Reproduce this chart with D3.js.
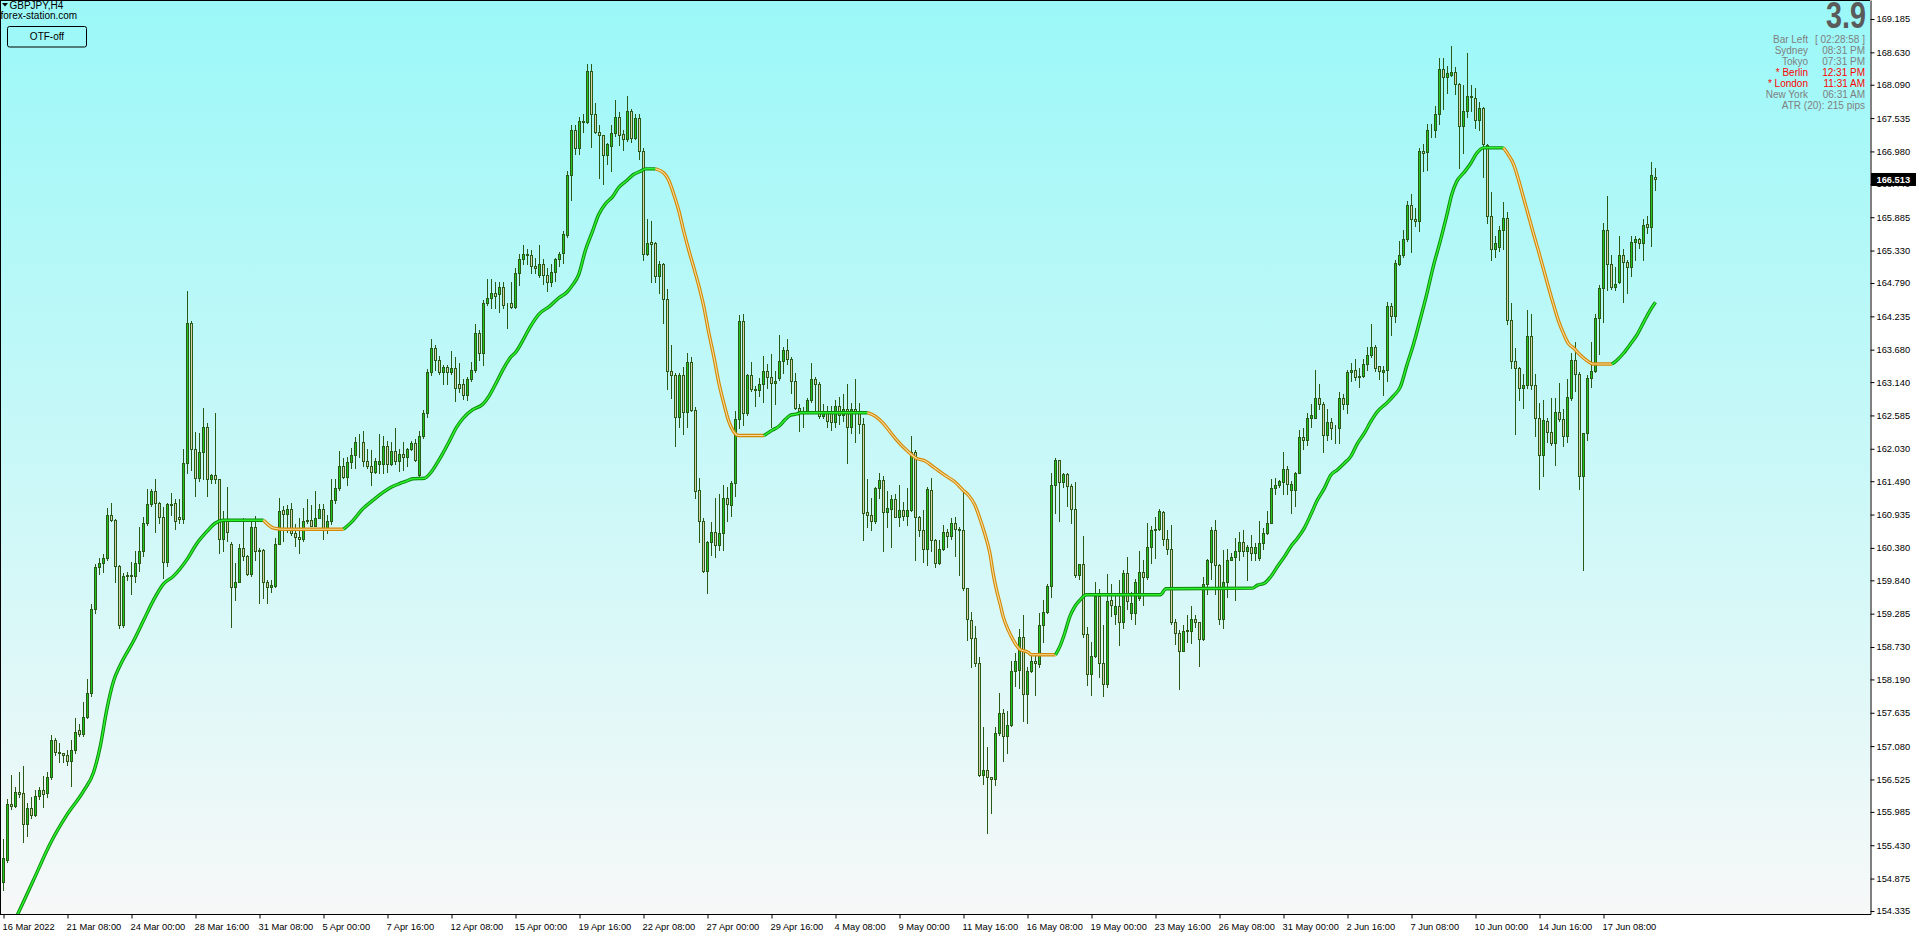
<!DOCTYPE html>
<html><head><meta charset="utf-8">
<script src="https://cdn.jsdelivr.net/npm/d3@7"></script>
<style>html,body{margin:0;padding:0;background:#fff;overflow:hidden}</style>
</head><body>
<svg id="c" width="1916" height="933"></svg>
<script>
// ---------------- DATA (GBPJPY, H4) ----------------
const openP = [
154.81,155.18,156.11,156.08,156.32,156.30,155.79,156.05,155.94,156.25,
156.35,156.30,156.57,157.19,156.99,156.96,156.93,156.84,157.01,157.35,
157.28,157.56,157.97,159.36,160.06,160.13,160.21,160.92,160.84,160.08,
159.10,159.92,159.93,159.92,160.13,160.33,160.79,161.11,161.32,161.13,
160.89,160.15,161.11,161.13,160.90,160.86,161.79,164.13,162.02,161.55,
161.97,162.39,161.53,161.60,161.52,160.53,160.82,160.45,159.73,159.82,
160.37,160.25,159.94,160.73,160.32,160.35,159.82,159.73,159.75,160.45,
161.01,160.94,161.03,160.63,160.56,160.53,160.83,160.84,160.75,160.88,
161.03,160.71,160.82,161.18,161.38,161.74,161.56,161.81,161.93,162.15,
162.14,161.83,161.74,161.64,161.78,161.78,162.07,161.78,162.00,161.82,
161.94,161.89,162.03,162.12,161.60,162.25,162.63,163.31,163.71,163.50,
163.31,163.39,163.30,163.37,163.11,163.11,162.92,163.19,163.34,163.96,
163.62,164.45,164.54,164.63,164.60,164.72,164.42,164.45,164.39,164.95,
165.19,165.28,165.25,165.07,164.92,165.10,164.92,164.81,164.97,165.19,
165.29,165.59,166.59,167.33,167.03,167.48,167.47,168.32,167.60,167.31,
167.25,166.92,167.07,167.28,167.55,167.27,167.18,167.65,167.21,167.54,
166.99,165.28,165.47,165.46,164.91,165.11,164.52,163.33,163.25,162.56,
163.25,162.65,163.48,162.68,161.34,160.83,159.99,160.47,160.64,160.43,
160.63,161.21,161.09,161.46,162.52,164.15,162.62,163.26,163.03,163.01,
163.11,163.33,163.23,163.12,163.20,163.49,163.68,163.53,163.15,162.71,
162.62,162.65,162.85,163.19,163.11,162.58,162.63,162.62,162.47,162.75,
162.60,162.70,162.40,162.70,162.65,162.45,160.97,160.93,160.83,161.37,
161.51,160.98,161.02,161.19,160.90,161.01,160.91,161.01,161.98,160.90,
160.68,160.36,161.35,160.51,160.13,160.36,160.65,160.57,160.80,160.69,
160.68,159.71,159.18,158.88,158.46,156.60,156.68,156.56,156.53,157.29,
157.63,157.24,157.43,158.33,158.35,158.89,157.95,158.33,158.49,158.45,
159.10,159.32,159.74,161.43,161.84,161.47,161.61,161.41,161.02,159.93,
160.11,158.95,158.28,158.58,159.58,158.46,158.11,159.51,159.28,159.41,
159.14,159.96,159.29,159.29,159.54,159.98,159.89,160.39,160.67,160.70,
160.98,160.52,160.36,159.14,158.96,158.67,158.99,158.99,159.19,159.14,
158.86,159.78,160.15,160.68,160.10,159.19,159.82,160.18,160.22,160.33,
160.47,160.32,160.40,160.30,160.21,160.46,160.63,160.79,161.37,161.43,
161.47,161.69,161.34,161.34,161.63,162.22,162.18,162.55,162.55,162.87,
162.78,162.26,162.48,162.37,162.38,162.87,162.78,163.30,163.34,163.23,
163.24,163.44,163.59,163.72,163.40,163.31,163.34,164.41,164.24,165.11,
165.25,165.52,166.09,165.86,165.82,166.98,166.97,167.34,167.33,167.60,
168.36,168.22,168.26,168.31,168.11,167.40,167.65,167.90,167.87,167.50,
167.71,167.09,165.90,165.36,165.39,165.68,165.88,164.17,163.49,163.38,
163.05,163.09,163.90,163.09,162.55,161.93,162.49,162.31,162.12,162.64,
162.52,162.25,162.88,163.50,163.27,161.58,162.30,163.20,163.32,164.20,
164.71,165.68,165.11,164.72,164.81,165.25,165.14,165.05,165.48,165.52,
165.45,165.78,165.73,166.56];
const highP = [
155.54,156.20,156.60,156.40,156.65,156.75,156.13,156.23,156.35,156.40,
156.59,156.65,157.26,157.22,157.14,156.97,157.01,157.19,157.55,157.45,
157.82,158.19,159.44,160.11,160.21,160.28,161.05,161.13,160.86,160.10,
159.97,159.98,160.15,160.33,160.72,160.89,161.36,161.36,161.52,161.14,
161.06,161.13,161.30,161.19,161.19,162.02,164.65,164.16,162.31,162.29,
162.71,162.46,161.61,162.63,161.53,161.00,161.40,160.47,160.13,160.44,
160.87,160.26,160.86,160.91,160.38,160.36,159.84,159.84,160.55,161.21,
161.08,161.10,161.13,160.77,160.88,161.04,161.20,161.09,161.33,161.11,
161.11,160.92,161.53,161.53,162.00,161.88,161.89,162.04,162.23,162.28,
162.32,162.03,162.01,161.88,162.28,162.25,162.16,162.14,162.38,162.03,
162.14,162.04,162.16,162.20,162.33,162.68,163.36,163.86,163.76,163.57,
163.43,163.43,163.65,163.56,163.45,163.19,163.23,163.47,164.10,164.01,
164.51,164.86,164.86,164.80,164.80,164.80,164.46,164.80,165.04,165.27,
165.43,165.35,165.34,165.21,165.43,165.19,165.04,165.10,165.21,165.31,
165.65,166.65,167.42,167.42,167.55,167.61,168.44,168.43,167.79,167.42,
167.26,167.12,167.42,167.84,167.63,167.33,167.91,167.69,167.61,167.60,
167.03,165.85,165.83,165.47,165.16,165.12,164.69,163.76,163.29,163.29,
163.39,163.63,163.56,162.72,161.54,160.87,160.49,160.81,161.21,161.27,
161.42,161.40,161.49,162.66,164.26,164.27,163.27,163.47,163.08,163.20,
163.57,163.44,163.60,163.32,163.93,163.72,163.85,163.56,163.29,162.78,
162.72,162.87,163.45,163.23,163.14,162.78,162.75,162.75,162.85,162.90,
162.95,163.10,162.80,163.19,162.80,162.55,161.52,161.21,161.40,161.62,
161.58,161.33,161.26,161.28,161.43,161.15,161.37,162.25,162.01,160.91,
161.01,161.40,161.54,160.52,160.51,160.76,160.69,160.87,160.90,160.72,
161.32,159.72,159.32,159.08,158.56,157.39,157.06,156.57,157.39,157.96,
157.69,157.67,158.49,158.63,159.03,159.26,158.40,158.63,158.63,159.30,
159.51,159.78,161.62,161.87,161.85,161.63,161.62,161.44,161.47,160.12,
160.57,159.07,158.82,159.82,159.69,159.10,159.95,159.78,159.60,159.85,
160.01,160.22,159.65,159.87,160.32,160.18,160.80,160.74,160.89,161.02,
160.99,160.68,160.76,159.19,159.02,159.10,159.26,159.41,159.26,159.15,
159.89,160.19,160.73,160.84,160.11,160.35,160.36,160.30,160.54,160.65,
160.67,160.43,160.60,160.46,160.82,160.71,161.00,161.52,161.54,161.51,
161.97,161.74,161.50,161.65,162.35,162.37,162.62,162.78,163.34,163.11,
162.81,162.70,162.55,162.43,162.98,162.95,163.34,163.45,163.52,163.37,
163.52,163.72,164.10,163.76,163.40,163.41,164.47,164.45,165.17,165.49,
165.67,166.16,166.27,166.03,167.04,167.11,167.44,167.44,167.74,168.53,
168.53,168.41,168.74,168.38,168.12,168.08,168.62,168.08,168.04,167.81,
167.72,167.10,166.30,165.58,165.74,166.14,165.97,164.45,163.70,163.39,
163.27,164.34,164.28,163.27,162.79,162.85,162.55,162.87,162.87,163.13,
162.70,163.19,163.62,163.80,163.31,162.30,163.25,163.80,164.28,164.75,
165.79,166.24,165.26,165.05,165.58,165.36,165.17,165.57,165.58,165.54,
165.85,165.90,166.80,166.71];
const lowP = [
154.68,155.15,156.03,156.06,156.23,155.49,155.58,155.89,155.91,156.20,
156.06,156.23,156.54,156.94,156.81,156.81,156.77,156.41,156.97,157.24,
157.24,157.55,157.92,159.29,159.94,159.98,160.18,160.82,159.81,159.05,
159.06,159.84,159.61,159.81,159.99,160.24,160.76,161.08,160.64,160.79,
159.88,160.08,160.92,160.69,160.79,160.80,161.63,161.67,161.25,161.50,
161.53,161.25,161.46,161.46,160.30,160.32,160.49,159.07,159.51,159.81,
160.18,159.93,159.92,160.18,159.47,159.54,159.46,159.64,159.73,160.44,
160.50,160.65,160.59,160.41,160.30,160.50,160.80,160.74,160.74,160.87,
160.53,160.62,160.77,161.12,161.35,161.54,161.42,161.71,161.71,161.89,
161.74,161.71,161.42,161.62,161.62,161.62,161.64,161.76,161.77,161.66,
161.68,161.74,162.01,161.83,161.58,162.21,162.56,163.25,163.34,163.27,
163.11,163.11,163.28,162.83,162.97,162.86,162.85,163.15,163.31,163.50,
163.42,164.42,164.37,164.38,164.31,164.37,164.04,164.37,164.37,164.75,
165.10,165.10,164.95,164.95,164.89,164.77,164.65,164.74,164.83,165.07,
165.13,165.55,166.17,166.94,166.94,167.31,167.45,167.05,167.29,166.53,
166.44,166.77,166.65,167.24,167.09,167.00,167.15,167.14,167.18,166.86,
165.17,165.25,164.80,164.80,164.63,164.12,163.02,162.87,162.07,162.40,
162.28,162.40,162.66,161.21,160.48,159.98,159.63,160.26,160.23,160.35,
160.35,160.82,160.91,161.24,162.37,162.43,162.59,162.99,162.75,162.91,
162.81,163.05,162.40,162.78,163.17,163.29,163.44,162.96,162.69,162.32,
162.40,162.62,162.81,162.63,162.55,162.55,162.40,162.34,162.40,162.45,
162.50,161.79,162.30,162.15,162.30,160.51,160.73,160.67,160.80,161.21,
160.33,160.72,160.40,160.89,160.75,160.85,160.76,161.00,160.18,160.57,
160.15,160.10,160.32,160.06,160.12,160.34,160.40,160.52,160.24,159.93,
159.68,158.85,158.39,158.41,156.58,156.45,155.63,155.96,156.43,157.27,
156.84,156.97,157.42,158.08,158.04,157.49,157.46,158.31,157.93,158.40,
158.82,159.30,159.56,160.96,160.83,161.40,161.07,160.79,159.90,159.87,
158.90,158.10,157.93,158.57,158.23,157.92,158.07,159.25,159.11,158.76,
159.04,159.37,159.19,159.11,159.52,159.43,159.87,160.13,160.21,160.68,
160.43,160.28,159.12,158.78,158.03,158.66,158.82,158.80,159.07,158.41,
158.85,159.62,159.87,159.62,159.12,159.04,159.57,160.17,159.52,160.18,
160.25,159.84,160.18,160.18,160.18,160.36,160.61,160.79,161.28,161.40,
161.28,161.28,160.96,161.07,161.62,162.02,162.09,162.40,162.54,162.69,
161.98,162.18,162.20,162.13,162.12,162.70,162.63,163.16,163.18,163.06,
163.22,163.34,163.56,163.33,163.19,162.93,163.15,163.92,164.14,165.09,
165.23,165.49,165.30,165.74,165.66,166.65,166.67,167.22,167.22,167.44,
167.69,167.96,168.23,167.93,166.71,166.95,167.56,167.66,167.37,167.34,
166.56,165.79,165.17,165.23,165.33,165.35,164.10,163.38,162.27,162.85,
162.71,163.05,163.03,162.24,161.36,161.57,162.14,162.09,161.76,162.49,
162.08,162.14,162.85,163.00,161.36,160.02,162.17,163.06,163.30,163.60,
164.14,164.67,164.69,164.67,164.79,164.48,164.63,164.91,165.17,165.38,
165.17,165.63,165.41,166.34];
const closeP = [
155.22,156.11,156.09,156.32,156.29,155.79,156.05,155.94,156.25,156.35,
156.29,156.57,157.19,156.99,156.96,156.93,156.84,157.01,157.31,157.28,
157.56,157.97,159.36,160.06,160.13,160.21,160.92,160.84,160.08,159.10,
159.92,159.93,159.92,160.13,160.33,160.79,161.11,161.32,161.13,160.89,
160.15,161.11,161.10,160.82,160.86,161.79,164.13,162.02,161.55,161.97,
162.39,161.53,161.60,161.52,160.53,160.82,160.64,159.73,159.82,160.37,
160.25,159.94,160.73,160.32,160.35,159.82,159.73,159.76,160.45,161.00,
160.94,161.03,160.63,160.56,160.53,160.83,160.84,160.75,160.88,161.03,
160.71,160.82,161.18,161.38,161.74,161.56,161.81,161.93,162.15,162.14,
161.83,161.74,161.64,161.82,161.83,162.07,161.78,162.00,161.82,161.94,
161.89,162.03,162.12,161.84,162.25,162.63,163.31,163.71,163.50,163.31,
163.39,163.30,163.37,163.04,163.05,162.92,163.19,163.34,163.96,163.62,
164.46,164.54,164.63,164.58,164.72,164.42,164.43,164.39,164.95,165.19,
165.28,165.25,165.07,165.04,165.11,164.92,164.81,164.97,165.19,165.27,
165.61,166.59,167.33,167.03,167.48,167.47,168.32,167.60,167.31,167.25,
166.92,167.11,167.28,167.55,167.25,167.18,167.65,167.21,167.54,166.99,
165.28,165.46,165.44,164.91,165.11,164.52,163.33,163.25,162.56,163.25,
162.65,163.48,162.68,161.33,160.83,159.99,160.48,160.64,160.43,160.63,
161.21,161.11,161.46,162.52,164.15,162.62,163.26,163.02,163.01,163.11,
163.33,163.23,163.13,163.15,163.49,163.68,163.53,163.15,162.71,162.66,
162.66,162.85,163.19,163.11,162.58,162.62,162.49,162.47,162.75,162.60,
162.70,162.40,162.70,162.65,162.45,160.96,160.93,160.83,161.37,161.51,
160.98,161.04,161.19,160.90,161.01,160.91,161.01,161.98,160.90,160.68,
160.36,161.36,160.51,160.13,160.36,160.65,160.57,160.80,160.69,160.67,
159.71,159.19,158.88,158.46,156.60,156.68,156.56,156.53,157.29,157.63,
157.24,157.43,158.33,158.49,158.89,157.95,158.33,158.49,158.46,159.10,
159.32,159.74,161.43,161.84,161.47,161.61,161.41,161.02,159.93,160.11,
158.95,158.28,158.58,159.58,158.46,158.11,159.50,159.43,159.41,159.14,
159.97,159.49,159.47,159.82,159.98,159.89,160.39,160.68,160.70,160.99,
160.52,160.36,159.14,158.96,158.67,159.00,159.01,159.19,159.14,158.86,
159.78,160.18,160.68,160.10,159.19,159.82,160.18,160.22,160.33,160.47,
160.32,160.40,160.30,160.40,160.46,160.63,160.79,161.37,161.43,161.50,
161.69,161.44,161.44,161.63,162.22,162.18,162.55,162.59,162.87,162.78,
162.26,162.48,162.37,162.38,162.87,162.78,163.30,163.34,163.23,163.24,
163.44,163.59,163.72,163.37,163.33,163.34,164.41,164.24,165.13,165.25,
165.52,166.09,165.86,165.82,166.98,166.95,167.34,167.33,167.60,168.36,
168.22,168.28,168.31,168.11,167.40,167.66,167.90,167.89,167.50,167.71,
167.10,165.90,165.36,165.45,165.68,165.88,164.17,163.49,163.38,163.05,
163.09,163.90,163.09,162.55,161.93,162.51,162.31,162.12,162.64,162.52,
162.25,162.89,163.50,163.27,161.58,162.30,163.20,163.33,164.20,164.71,
165.68,165.11,164.73,164.77,165.25,165.14,165.05,165.48,165.52,165.46,
165.76,165.73,166.58,166.513];

// moving average line, read at knots (bar index, value)
const maBar = [0,3.75,7.5,11.7,15.8,20,22.5,24.2,25.8,27.5,29.2,32.5,35,37.5,40,42.5,45.8,48.3,50.8,52.9,55,65,67.5,70,85,
87.3,89.8,92.3,94.8,96.9,99,100.7,102.3,105.25,106.9,108.2,109.8,111.5,113.2,114.8,117.3,119.8,121.5,123.2,124.8,126.5,128.2,129.8,131.5,134,136.5,
138.8,140.9,142.2,143.8,145.5,147.2,148.8,150.5,152.2,153.8,155.9,157.6,159.25,160.5,163,165.1,166.3,167.6,168.8,170.1,171.3,172.6,173.8,175.1,176.3,177.6,178.8,180.1,181.3,182.6,183.8,190.1,192.2,193.8,195.5,196.75,198.4,199.25,216,
218,220,222,223.25,226.2,228.25,230.3,232.8,235.3,237.8,239.9,241.2,242.8,244.1,245.3,246.6,247.4,248.25,249.1,249.9,251.2,252.4,254.1,256.2,257,263,264.1,265.3,266.6,267.8,269.1,270.75,
289.2,290.6,312.25,313.5,315.2,316.8,318.5,320.2,321.8,323.5,325.2,326.8,328.5,330.2,331.8,333.5,335.2,336.8,338.5,340.2,341.8,343.5,345.8,
347.5,349.2,350.8,352.5,354.2,355.8,357.5,359.2,360.8,362.1,363.3,365,366.7,368.3,370,375,376.25,377.5,378.75,380,381.25,382.5,383.75,385,386.25,387.5,388.75,390,391.25,392.5,394.2,395.8,397.5,402.1,403.3,405,406.7,408.3,410,411.7,413];
const maVal = [153.80,154.31,154.85,155.46,155.93,156.33,156.64,157.08,157.68,158.16,158.43,158.83,159.17,159.51,159.78,159.91,160.18,160.45,160.65,160.79,160.84,160.84,160.71,160.69,160.69,
160.83,161.03,161.17,161.30,161.39,161.45,161.49,161.53,161.54,161.64,161.77,161.95,162.16,162.38,162.53,162.68,162.77,162.92,163.13,163.34,163.53,163.65,163.83,164.04,164.28,164.40,
164.54,164.64,164.75,164.93,165.34,165.64,165.93,166.11,166.22,166.38,166.50,166.60,166.65,166.69,166.69,166.62,166.50,166.26,166.00,165.64,165.34,165.04,164.75,164.39,163.97,163.56,163.14,162.78,162.49,162.31,162.25,162.25,162.34,162.40,162.52,162.59,162.61,162.63,162.63,
162.57,162.45,162.28,162.18,161.98,161.87,161.83,161.71,161.59,161.48,161.34,161.26,161.10,160.87,160.62,160.29,159.96,159.68,159.46,159.24,159.01,158.85,158.69,158.64,158.60,158.60,158.74,158.96,159.24,159.40,159.51,159.60,
159.60,159.70,159.71,159.76,159.79,159.90,160.07,160.23,160.40,160.54,160.71,160.93,161.18,161.37,161.59,161.68,161.79,161.90,162.12,162.29,162.48,162.65,162.79,
162.91,163.06,163.41,163.77,164.19,164.60,165.08,165.49,165.91,166.27,166.48,166.62,166.77,166.95,167.04,167.04,166.92,166.77,166.51,166.21,165.91,165.61,165.32,165.02,164.72,164.43,164.16,163.95,163.78,163.71,163.59,163.50,163.44,163.44,163.50,163.62,163.77,163.92,164.13,164.34,164.47];

const timeTickBars = [0,16,32,48,64,80,96,112,128,144,160,176,192,208,224,240,256,272,288,304,320,336,352,368,384,400];
const timeTickLabels = ["16 Mar 2022","21 Mar 08:00","24 Mar 00:00","28 Mar 16:00","31 Mar 08:00","5 Apr 00:00","7 Apr 16:00","12 Apr 08:00","15 Apr 00:00","19 Apr 16:00","22 Apr 08:00","27 Apr 00:00","29 Apr 16:00","4 May 08:00","9 May 00:00","11 May 16:00","16 May 08:00","19 May 00:00","23 May 16:00","26 May 08:00","31 May 00:00","2 Jun 16:00","7 Jun 08:00","10 Jun 00:00","14 Jun 16:00","17 Jun 08:00"];
const priceTicks = [169.185,168.630,168.090,167.535,166.980,166.440,165.885,165.330,164.790,164.235,163.680,163.140,162.585,162.030,161.490,160.935,160.380,159.840,159.285,158.730,158.190,157.635,157.080,156.525,155.985,155.430,154.875,154.335];
const lastPrice = 166.513;
const symbolTitle = "GBPJPY,H4";
const siteText = "forex-station.com";
const buttonText = "OTF-off";
const bigValue = "3.9";
const infoLabels = ["Bar Left","Sydney","Tokyo","* Berlin","* London","New York"];
const infoValues = ["[ 02:28:58 ]","08:31 PM","07:31 PM","12:31 PM","11:31 AM","06:31 AM"];
const infoRed = [false,false,false,true,true,false];
const atrText = "ATR (20): 215 pips";

// ---------------- DRAW ----------------
const W = 1916, H = 933, PR = 1870, PB = 914;
const FONT = "'Liberation Sans', Arial, sans-serif";
const svg = d3.select("#c");
const x = d3.scaleLinear().domain([0, 413]).range([3.5, 3.5 + 4 * 413]);
const y = d3.scaleLinear().domain([154.285, 169.501]).range([PB, 0]);

const defs = svg.append("defs");
const grad = defs.append("linearGradient").attr("id", "bg").attr("x1", 0).attr("y1", 0).attr("x2", 0).attr("y2", 1);
grad.append("stop").attr("offset", "0%").attr("stop-color", "#9bf8f8");
grad.append("stop").attr("offset", "100%").attr("stop-color", "#f7f8f8");
defs.append("clipPath").attr("id", "plot").append("rect").attr("x", 0).attr("y", 0).attr("width", PR).attr("height", PB);

svg.append("rect").attr("width", W).attr("height", H).attr("fill", "#ffffff");
svg.append("rect").attr("x", 0).attr("y", 0).attr("width", PR).attr("height", PB).attr("fill", "url(#bg)");

const OUT = "#2b5a16", BULL = "#1fc41f", BEAR = "#d9d1ac";
const g = svg.append("g").attr("clip-path", "url(#plot)");
const idx = d3.range(openP.length);
const snap = v => Math.round(v) + 0.5;
g.selectAll("line.wick").data(idx).join("line").attr("class", "wick")
  .attr("x1", i => x(i)).attr("x2", i => x(i))
  .attr("y1", i => Math.round(y(highP[i]))).attr("y2", i => Math.round(y(lowP[i])) + 1)
  .attr("stroke", OUT).attr("stroke-width", 1);
g.selectAll("rect.body").data(idx).join("rect").attr("class", "body")
  .attr("x", i => x(i) - 1).attr("width", 2)
  .attr("y", i => snap(y(Math.max(openP[i], closeP[i]))))
  .attr("height", i => Math.max(0, snap(y(Math.min(openP[i], closeP[i]))) - snap(y(Math.max(openP[i], closeP[i])))))
  .attr("fill", i => closeP[i] >= openP[i] ? BULL : BEAR)
  .attr("stroke", OUT).attr("stroke-width", 1);

// MA line coloured by direction (green rising/flat after rise, orange falling/flat after fall)
const groups = [];
let state = "up", cur = null;
for (let i = 0; i < maBar.length - 1; i++) {
  const d = maVal[i + 1] - maVal[i];
  if (d > 0.001) state = "up"; else if (d < -0.001) state = "down";
  if (!cur || cur.state !== state) { cur = { state, pts: [[maBar[i], maVal[i]]] }; groups.push(cur); }
  cur.pts.push([maBar[i + 1], maVal[i + 1]]);
}
const line = d3.line().x(d => x(d[0])).y(d => y(d[1])).curve(d3.curveMonotoneX);
groups.forEach(gr => {
  const up = gr.state === "up";
  g.append("path").attr("d", line(gr.pts)).attr("fill", "none")
    .attr("stroke", up ? "#0b8a0b" : "#d48a00").attr("stroke-width", 3.4).attr("stroke-linejoin", "round");
  g.append("path").attr("d", line(gr.pts)).attr("fill", "none")
    .attr("stroke", up ? "#2df02d" : "#f6dca6").attr("stroke-width", up ? 1.5 : 1.1).attr("stroke-linejoin", "round");
});

// frame
svg.append("line").attr("x1", 0.5).attr("x2", 0.5).attr("y1", 0).attr("y2", PB).attr("stroke", "#000");
svg.append("line").attr("x1", 0).attr("x2", PR).attr("y1", 0.5).attr("y2", 0.5).attr("stroke", "#000");

// price axis
const yAxis = d3.axisRight(y).tickValues(priceTicks).tickSize(4).tickSizeOuter(0).tickPadding(2)
  .tickFormat(d3.format(".3f"));
const ya = svg.append("g").attr("transform", `translate(${PR + 0.5},0)`).call(yAxis);
ya.select(".domain").attr("stroke", "#000");
ya.selectAll(".tick line").attr("stroke", "#000");
ya.selectAll("text").attr("font-family", FONT).attr("font-size", 9.3).attr("fill", "#000");

// time axis
const xAxis = d3.axisBottom(x).tickValues(timeTickBars).tickSize(4).tickSizeOuter(0)
  .tickFormat((d, i) => timeTickLabels[i]);
const xa = svg.append("g").attr("transform", `translate(0,${PB + 0.5})`).call(xAxis);
xa.select(".domain").remove();
xa.selectAll(".tick line").attr("stroke", "#000");
xa.selectAll("text").attr("text-anchor", "start").attr("x", -1.5).attr("y", 15).attr("dy", null)
  .attr("font-family", FONT).attr("font-size", 9.3).attr("fill", "#000");
svg.append("line").attr("x1", 0).attr("x2", PR + 1).attr("y1", PB + 0.5).attr("y2", PB + 0.5).attr("stroke", "#000");

// current price tag
const yp = y(lastPrice);
svg.append("rect").attr("x", PR + 1).attr("y", yp - 6.5).attr("width", W - PR - 1).attr("height", 13).attr("fill", "#000");
svg.append("text").attr("x", PR + 6.5).attr("y", yp).attr("dy", "0.35em").attr("font-family", FONT)
  .attr("font-size", 9.3).attr("font-weight", "bold").attr("fill", "#fff").text(d3.format(".3f")(lastPrice));

// top-left labels
svg.append("path").attr("d", "M2,3 L8,3 L5,6.5 Z").attr("fill", "#000");
svg.append("text").attr("x", 9.5).attr("y", 8.5).attr("font-family", FONT).attr("font-size", 10).attr("fill", "#000").text(symbolTitle);
svg.append("text").attr("x", 0.5).attr("y", 18.5).attr("font-family", FONT).attr("font-size", 10).attr("fill", "#000").text(siteText);
svg.append("rect").attr("x", 7.5).attr("y", 26.5).attr("width", 79).attr("height", 20.5).attr("rx", 2)
  .attr("fill", "none").attr("stroke", "#000");
svg.append("text").attr("x", 47).attr("y", 36.8).attr("dy", "0.35em").attr("text-anchor", "middle")
  .attr("font-family", FONT).attr("font-size", 10).attr("fill", "#000").text(buttonText);

// top-right info panel
svg.append("text").attr("x", 1866).attr("y", 28.3).attr("text-anchor", "end")
  .attr("font-family", FONT).attr("font-weight", "bold").attr("font-size", 37)
  .attr("textLength", 40).attr("lengthAdjust", "spacingAndGlyphs").attr("fill", "#5a5a5a").text(bigValue);
infoLabels.forEach((lab, i) => {
  const yy = 42.5 + i * 11.03;
  const col = infoRed[i] ? "#ff0000" : "#7f7f7f";
  svg.append("text").attr("x", 1808).attr("y", yy).attr("text-anchor", "end")
    .attr("font-family", FONT).attr("font-size", 10).attr("fill", col).text(lab);
  svg.append("text").attr("x", 1865).attr("y", yy).attr("text-anchor", "end")
    .attr("font-family", FONT).attr("font-size", 10).attr("fill", col).text(infoValues[i]);
});
svg.append("text").attr("x", 1865).attr("y", 42.5 + 6 * 11.03).attr("text-anchor", "end")
  .attr("font-family", FONT).attr("font-size", 10).attr("fill", "#7f7f7f").text(atrText);
</script>
</body></html>
